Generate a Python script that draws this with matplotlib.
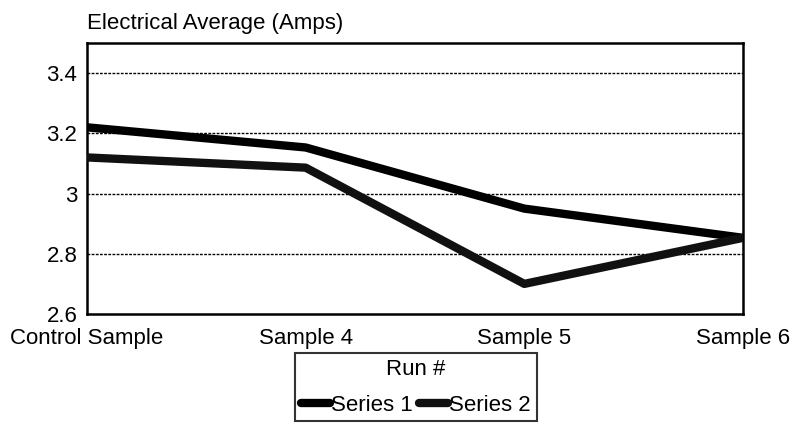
import matplotlib.pyplot as plt

plt.rcParams['font.family'] = ['Liberation Sans', 'DejaVu Sans']

# данные
categories = ['Control Sample', 'Sample 4', 'Sample 5', 'Sample 6']
series_1 = [3.22, 3.153, 2.95, 2.853]
series_2 = [3.12, 3.086, 2.70, 2.853]
y_ticks = [2.6, 2.8, 3.0, 3.2, 3.4]
y_tick_labels = ['2.6', '2.8', '3', '3.2', '3.4']

fs = 16  # размер шрифта

fig = plt.figure(figsize=(7.95, 4.24), dpi=100)
ax = fig.add_axes([87 / 795, 1 - 314 / 424, (743 - 87) / 795, (314 - 43) / 424])

x = range(len(categories))
ax.plot(x, series_1, color='black', lw=6, solid_capstyle='round', solid_joinstyle='round',
        label='Series 1', zorder=3)
ax.plot(x, series_2, color='#111111', lw=6, solid_capstyle='round', solid_joinstyle='round',
        label='Series 2', zorder=3)

ax.set_xlim(0, len(categories) - 1)
ax.set_ylim(2.6, 3.5)
ax.set_xticks(list(x))
ax.set_xticklabels(categories, fontsize=fs)
ax.set_yticks(y_ticks)
ax.set_yticklabels(y_tick_labels, fontsize=fs)
ax.tick_params(axis='both', length=0)
ax.tick_params(axis='y', pad=7)
ax.tick_params(axis='x', pad=10)

for v in y_ticks[1:]:
    ax.axhline(v, color='black', lw=1, ls=(0, (2, 1)), zorder=1)

for s in ax.spines.values():
    s.set_linewidth(1.8)
    s.set_color('black')

fig.text(87 / 795, 1 - 24 / 424, 'Electrical Average (Amps)', fontsize=fs,
         ha='left', va='center')

leg = fig.legend(loc='upper center', bbox_to_anchor=(416 / 795, 1 - 353 / 424),
                 ncol=2, title='Run #', fontsize=fs, title_fontsize=fs,
                 frameon=True, fancybox=False, edgecolor='black',
                 handlelength=1.3, handletextpad=0.05, columnspacing=0.3,
                 borderpad=0.25, borderaxespad=0)
leg.get_frame().set_linewidth(1.5)
leg._legend_box.sep = 11

fig.savefig('out.png', dpi=100)
